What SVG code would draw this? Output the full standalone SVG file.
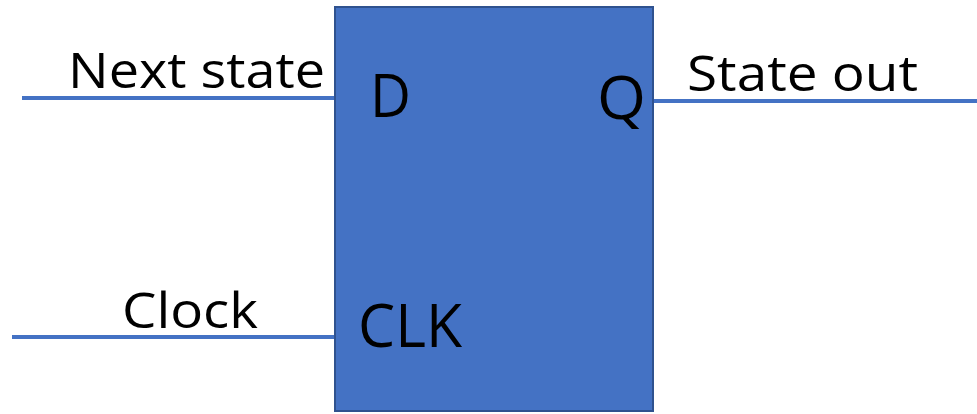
<svg xmlns="http://www.w3.org/2000/svg" width="977" height="414" viewBox="0 0 977 414">
  <style>
    .wire { stroke: #4472C4; stroke-width: 4; fill: none; }
    .box { fill: #4472C4; stroke: #2F528F; stroke-width: 2; }
    .lbl { font-family: "Open Sans", "Liberation Sans", sans-serif; font-size: 50px; fill: #000; }
    .pin { font-family: "Open Sans", "Liberation Sans", sans-serif; font-size: 61px; fill: #000; }
  </style>
  <rect width="977" height="414" fill="#ffffff"/>
  <!-- wires -->
  <g id="connectors">
    <line class="wire" x1="22" y1="98" x2="335" y2="98"/>
    <line class="wire" x1="12" y1="337" x2="335" y2="337"/>
    <line class="wire" x1="653" y1="101" x2="977" y2="101"/>
  </g>
  <!-- D flip-flop -->
  <g id="flipflop">
    <rect class="box" x="335" y="7" width="318" height="404"/>
    <text class="pin" x="370" y="117" textLength="41" lengthAdjust="spacingAndGlyphs">D</text>
    <text class="pin" x="597" y="119" textLength="49" lengthAdjust="spacingAndGlyphs">Q</text>
    <text class="pin" x="358" y="347" textLength="104" lengthAdjust="spacingAndGlyphs">CLK</text>
  </g>
  <g id="label-next">
    <text class="lbl" x="68" y="88" textLength="257" lengthAdjust="spacingAndGlyphs">Next state</text>
  </g>
  <g id="label-clock">
    <text class="lbl" x="122" y="328" textLength="136" lengthAdjust="spacingAndGlyphs">Clock</text>
  </g>
  <g id="label-out">
    <text class="lbl" x="687" y="91" textLength="231" lengthAdjust="spacingAndGlyphs">State out</text>
  </g>
</svg>
